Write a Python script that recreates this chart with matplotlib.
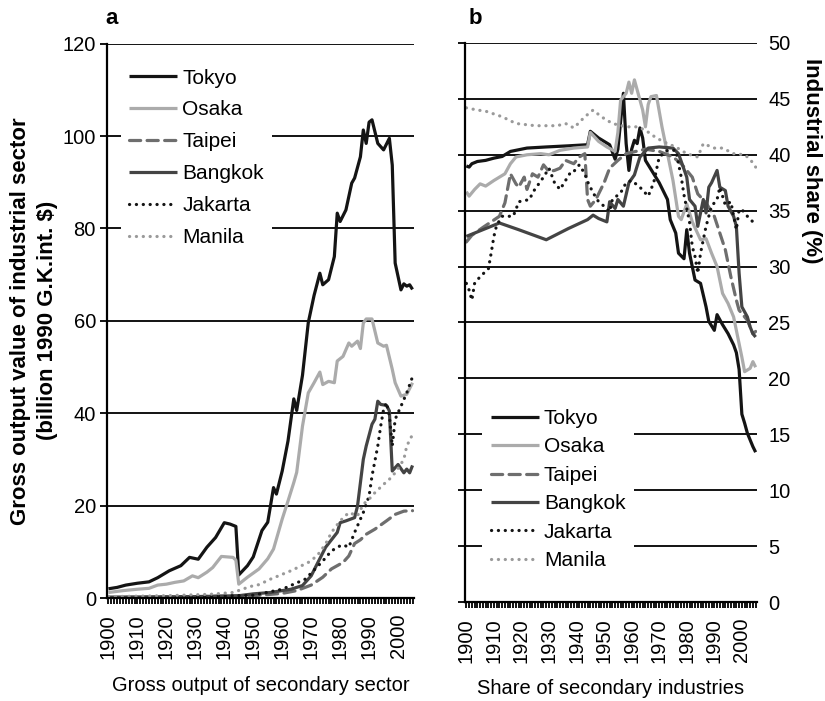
import matplotlib
matplotlib.use("Agg")
import matplotlib.pyplot as plt
from matplotlib.ticker import MultipleLocator

plt.rcParams["font.family"] = ["Liberation Sans", "DejaVu Sans"]

# ---- data: panel a, gross output (billion 1990 G.K.int. $) ----
tokyo_out_yr = [1900, 1903, 1906, 1910, 1914, 1917, 1921, 1925, 1928, 1931, 1934, 1937,
                1940, 1942, 1944, 1945, 1948, 1950, 1953, 1955, 1957, 1958, 1960, 1962,
                1964, 1965, 1967, 1969, 1971, 1973, 1974, 1976, 1978, 1979, 1980, 1982,
                1984, 1985, 1987, 1988, 1989, 1990, 1991, 1993, 1995, 1997, 1998, 1999,
                2001, 2002, 2003, 2004, 2005]
tokyo_out = [2.0, 2.3, 2.8, 3.2, 3.5, 4.4, 5.9, 7.0, 8.8, 8.4, 11.0, 13.1,
             16.3, 16.0, 15.5, 5.0, 7.0, 8.9, 14.6, 16.4, 23.9, 22.5, 27.5, 34.0,
             43.1, 40.6, 48.2, 59.6, 65.5, 70.3, 67.8, 68.9, 73.9, 83.3, 81.5, 84.0,
             89.8, 90.9, 95.5, 101.3, 98.4, 103.0, 103.5, 98.4, 97.0, 99.5, 93.7, 72.5,
             66.7, 68.0, 67.5, 67.8, 66.8]

osaka_out_yr = [1900, 1905, 1910, 1914, 1917, 1920, 1923, 1926, 1929, 1931, 1934, 1936,
                1939, 1941, 1943, 1944, 1945, 1948, 1952, 1955, 1957, 1960, 1962, 1964,
                1965, 1967, 1969, 1971, 1973, 1974, 1976, 1978, 1979, 1981, 1983, 1984,
                1986, 1987, 1988, 1989, 1991, 1993, 1995, 1996, 1998, 1999, 2001, 2003,
                2005]
osaka_out = [1.2, 1.6, 1.9, 2.1, 2.8, 3.0, 3.4, 3.7, 4.8, 4.4, 5.6, 6.6,
             9.0, 8.9, 8.8, 8.2, 3.0, 4.5, 6.3, 8.5, 10.6, 17.1, 21.0, 25.0,
             27.2, 37.2, 44.4, 46.6, 48.9, 46.2, 46.9, 46.6, 51.3, 52.3, 55.2, 54.5,
             55.6, 54.0, 59.5, 60.4, 60.4, 55.2, 54.5, 54.7, 49.5, 46.6, 43.7, 44.1,
             46.6]

taipei_out_yr = [1900, 1920, 1940, 1950, 1960, 1965, 1970, 1974, 1977, 1981, 1983, 1985,
                 1987, 1989, 1992, 1996, 1999, 2002, 2005]
taipei_out = [0.1, 0.2, 0.4, 0.5, 1.0, 1.6, 2.8, 4.5, 6.3, 7.7, 9.1, 11.8,
              12.6, 13.8, 14.9, 16.7, 18.1, 18.8, 18.9]

bangkok_out_yr = [1900, 1930, 1945, 1950, 1956, 1963, 1967, 1970, 1972, 1975, 1979, 1980,
                  1982, 1985, 1986, 1988, 1989, 1991, 1992, 1993, 1994, 1996, 1997, 1998,
                  2000, 2002, 2003, 2004, 2005]
bangkok_out = [0.2, 0.3, 0.5, 0.9, 1.2, 1.9, 2.7, 4.8, 7.3, 11.0, 14.2, 16.3,
               16.7, 17.4, 19.9, 30.0, 32.9, 37.6, 38.7, 42.6, 41.9, 41.7, 40.5, 27.5,
               28.9, 27.1, 27.9, 27.1, 28.7]

jakarta_out_yr = [1900, 1930, 1950, 1960, 1968, 1974, 1977, 1980, 1981, 1983, 1985, 1988,
                  1990, 1991, 1993, 1994, 1995, 1996, 1997, 1998, 1999, 2001, 2003, 2005]
jakarta_out = [0.1, 0.3, 0.6, 1.9, 4.1, 8.0, 10.2, 11.3, 11.5, 11.0, 14.2, 18.5,
               22.1, 26.4, 32.9, 37.2, 40.8, 42.3, 39.4, 32.9, 38.7, 41.5, 44.4, 47.9]

manila_out_yr = [1900, 1920, 1935, 1943, 1949, 1952, 1956, 1963, 1969, 1972, 1975, 1977,
                 1980, 1983, 1986, 1988, 1990, 1992, 1995, 1997, 1999, 2002, 2003, 2005]
manila_out = [0.3, 0.5, 0.8, 1.2, 2.5, 2.9, 4.1, 5.9, 7.7, 9.1, 11.7, 14.2,
              16.7, 18.5, 17.8, 20.3, 21.4, 22.8, 24.6, 25.7, 27.1, 30.0, 32.9, 35.4]

# ---- data: panel b, industrial share (%) ----
tokyo_sh_yr = [1900, 1901, 1902, 1904, 1907, 1910, 1913, 1916, 1922, 1929, 1937, 1944,
               1945, 1948, 1952, 1954, 1955, 1956, 1957, 1958, 1959, 1960, 1961, 1962,
               1963, 1964, 1965, 1968, 1970, 1973, 1974, 1976, 1977, 1979, 1980, 1981,
               1983, 1985, 1987, 1988, 1990, 1991, 1993, 1995, 1997, 1998, 1999, 2000,
               2001, 2002, 2004, 2005]
tokyo_sh = [39.0, 38.9, 39.2, 39.4, 39.5, 39.7, 39.85, 40.3, 40.6, 40.7, 40.8, 40.9,
            42.1, 41.5, 40.9, 39.6, 40.5, 43.0, 45.5, 41.0, 38.6, 40.5, 41.3, 41.0,
            42.4, 41.5, 39.5, 38.3, 37.5, 36.0, 34.2, 33.0, 31.2, 30.7, 33.3, 31.2,
            28.8, 28.5, 26.4, 25.1, 24.3, 25.7, 24.8, 24.0, 23.0, 22.3, 20.8, 16.8,
            16.0, 15.1, 13.9, 13.4]

osaka_sh_yr = [1900, 1901, 1903, 1905, 1907, 1910, 1912, 1914, 1916, 1918, 1922, 1927,
               1930, 1934, 1939, 1944, 1945, 1948, 1951, 1954, 1955, 1956, 1958, 1959,
               1960, 1961, 1962, 1964, 1965, 1966, 1967, 1969, 1971, 1973, 1975, 1977,
               1978, 1980, 1982, 1985, 1987, 1989, 1991, 1993, 1995, 1997, 1998, 2000,
               2001, 2003, 2004, 2005]
osaka_sh = [36.7, 36.3, 36.9, 37.4, 37.2, 37.7, 38.0, 38.3, 39.2, 39.8, 40.0, 40.1,
            40.0, 40.4, 40.6, 40.7, 42.0, 41.2, 40.7, 40.3, 42.0, 44.9, 45.5, 46.5,
            45.5, 46.7, 45.8, 44.0, 42.5, 44.5, 45.2, 45.3, 42.5, 40.1, 37.7, 34.5,
            34.2, 35.6, 34.0, 32.4, 32.5, 31.2, 30.0, 27.6, 26.7, 25.5, 24.3, 21.9,
            20.6, 20.9, 21.5, 21.0]

taipei_sh_yr = [1900, 1902, 1906, 1909, 1912, 1914, 1916, 1918, 1919, 1921, 1922, 1924,
                1926, 1928, 1930, 1932, 1934, 1936, 1939, 1941, 1943, 1944, 1945, 1947,
                1950, 1952, 1955, 1958, 1965, 1970, 1975, 1978, 1982, 1984, 1987, 1990,
                1992, 1994, 1996, 1998, 1999, 2002, 2004, 2005]
taipei_sh = [32.2, 32.8, 33.5, 34.0, 34.5, 35.7, 38.3, 37.4, 37.1, 38.0, 36.9, 38.3,
             38.0, 39.1, 38.5, 38.6, 38.8, 39.5, 39.2, 39.8, 40.1, 36.0, 35.4, 36.0,
             37.5, 38.8, 39.5, 40.1, 40.5, 40.3, 39.8, 39.2, 38.0, 36.5, 35.7, 34.5,
             33.0, 31.5, 29.1, 27.0, 26.1, 25.2, 24.0, 24.2]

bangkok_sh_yr = [1900, 1903, 1907, 1912, 1919, 1929, 1937, 1944, 1946, 1948, 1951, 1952,
                 1954, 1955, 1957, 1959, 1961, 1963, 1966, 1970, 1975, 1977, 1980, 1981,
                 1983, 1984, 1986, 1987, 1988, 1989, 1991, 1992, 1994, 1995, 1997, 1998,
                 1999, 2000, 2002, 2003, 2004, 2005]
bangkok_sh = [32.7, 33.0, 33.4, 33.9, 33.3, 32.4, 33.4, 34.2, 34.6, 34.3, 34.0, 35.8,
              35.2, 36.0, 35.4, 37.5, 38.2, 39.8, 40.6, 40.7, 40.6, 40.1, 38.0, 36.0,
              35.4, 33.6, 36.0, 34.8, 37.1, 37.5, 38.6, 37.1, 36.8, 35.4, 34.5, 33.6,
              29.4, 26.4, 25.5, 24.6, 24.0, 23.7]

jakarta_sh_yr = [1900, 1901, 1902, 1903, 1905, 1908, 1909, 1910, 1911, 1913, 1917, 1918,
                 1919, 1923, 1924, 1926, 1928, 1930, 1932, 1934, 1936, 1938, 1939, 1941,
                 1943, 1944, 1946, 1948, 1950, 1952, 1953, 1956, 1958, 1960, 1963, 1966,
                 1968, 1970, 1973, 1976, 1978, 1979, 1981, 1982, 1983, 1984, 1985, 1987,
                 1989, 1991, 1992, 1994, 1996, 1998, 1999, 2000, 2002, 2004, 2005]
jakarta_sh = [28.5, 27.9, 27.0, 28.5, 29.1, 29.8, 31.2, 32.7, 33.7, 34.5, 34.5, 35.1,
              35.8, 36.0, 36.6, 37.3, 38.0, 38.8, 37.5, 36.9, 37.7, 38.5, 38.5, 39.1,
              38.3, 37.6, 36.6, 35.8, 35.4, 34.9, 36.0, 36.6, 37.5, 37.7, 37.1, 36.3,
              37.5, 39.8, 40.4, 40.4, 38.0, 36.4, 34.0, 31.8, 30.9, 29.4, 31.2, 33.6,
              35.4, 36.0, 37.1, 35.5, 35.8, 33.3, 35.1, 35.1, 34.5, 34.0, 34.2]

manila_sh_yr = [1900, 1904, 1907, 1913, 1918, 1925, 1933, 1936, 1939, 1943, 1946, 1949,
                1953, 1958, 1962, 1965, 1969, 1973, 1976, 1980, 1984, 1986, 1990, 1993,
                1997, 2001, 2003, 2005]
manila_sh = [44.2, 44.0, 43.9, 43.4, 42.8, 42.6, 42.6, 42.8, 42.4, 43.4, 44.0, 43.4,
             42.8, 42.5, 42.5, 42.2, 41.5, 41.0, 40.7, 40.1, 39.8, 41.0, 40.6, 40.6,
             40.1, 40.0, 39.6, 38.9]

cities = ["Tokyo", "Osaka", "Taipei", "Bangkok", "Jakarta", "Manila"]
output_series = [(tokyo_out_yr, tokyo_out), (osaka_out_yr, osaka_out),
                 (taipei_out_yr, taipei_out), (bangkok_out_yr, bangkok_out),
                 (jakarta_out_yr, jakarta_out), (manila_out_yr, manila_out)]
share_series = [(tokyo_sh_yr, tokyo_sh), (osaka_sh_yr, osaka_sh),
                (taipei_sh_yr, taipei_sh), (bangkok_sh_yr, bangkok_sh),
                (jakarta_sh_yr, jakarta_sh), (manila_sh_yr, manila_sh)]

styles = {
    "Tokyo": dict(color="#141414", ls="-"),
    "Osaka": dict(color="#ababab", ls="-"),
    "Taipei": dict(color="#6e6e6e", ls=(0, (3.5, 2))),
    "Bangkok": dict(color="#444444", ls="-"),
    "Jakarta": dict(color="#141414", ls=(0, (0.05, 2.1))),
    "Manila": dict(color="#9a9a9a", ls=(0, (0.05, 2.1))),
}
LW = 2.3
FS = 14.5
LEG_FS = 15

fig = plt.figure(figsize=(8.25, 7.01), dpi=100)
ax1 = fig.add_axes([0.1297, 0.1469, 0.3721, 0.7909])
ax2 = fig.add_axes([0.5636, 0.1412, 0.3540, 0.7975])


def style_axis(ax):
    ax.set_xlim(1899.5, 2005.5)
    ax.xaxis.set_major_locator(MultipleLocator(10))
    ax.xaxis.set_minor_locator(MultipleLocator(1))
    ax.tick_params(axis="x", which="both", direction="out", length=4.5, width=1.3,
                   color="black", labelsize=FS, labelrotation=90, pad=7)
    for s in ["top", "right"]:
        ax.spines[s].set_visible(False)
    for s in ["left", "bottom"]:
        ax.spines[s].set_linewidth(1.6)
    ax.grid(axis="y", color="black", lw=1.3)
    ax.set_axisbelow(True)


def draw(ax, series):
    for name, (yrs, vals) in zip(cities, series):
        st = styles[name]
        ax.plot(yrs, vals, color=st["color"], ls=st["ls"], lw=LW,
                dash_capstyle="round", solid_capstyle="butt", label=name)


# panel a
draw(ax1, output_series)
style_axis(ax1)
ax1.set_ylim(0, 120)
ax1.yaxis.set_major_locator(MultipleLocator(20))
ax1.tick_params(axis="y", direction="out", length=5, width=1.3, labelsize=FS, pad=3)
ax1.set_ylabel("Gross output value of industrial sector\n(billion 1990 G.K.int. $)",
               fontsize=16, fontweight="bold", linespacing=1.35)
ax1.yaxis.set_label_coords(-0.16, 0.5)
ax1.set_xlabel("Gross output of secondary sector", fontsize=FS)
ax1.xaxis.set_label_coords(0.5, -0.14)
leg1 = ax1.legend(loc="upper left", bbox_to_anchor=(0.045, 0.97), fontsize=LEG_FS,
                  handlelength=2.3, handletextpad=0.25, labelspacing=0.62,
                  borderaxespad=0, frameon=True, fancybox=False)
leg1.get_frame().set_edgecolor("none")
leg1.get_frame().set_alpha(1)

# panel b
draw(ax2, share_series)
style_axis(ax2)
ax2.set_ylim(0, 50)
ax2.yaxis.set_major_locator(MultipleLocator(5))
ax2.tick_params(axis="y", direction="out", length=5, width=1.3, labelsize=FS,
                left=True, right=False, labelleft=False, labelright=True, pad=3)
ax2.yaxis.set_label_position("right")
ax2.set_ylabel("Industrial share (%)", fontsize=16, fontweight="bold",
               rotation=270, va="bottom")
ax2.yaxis.set_label_coords(1.152, 0.79)
ax2.set_xlabel("Share of secondary industries", fontsize=FS)
ax2.xaxis.set_label_coords(0.5, -0.137)
leg2 = ax2.legend(loc="upper left", bbox_to_anchor=(0.06, 0.36), fontsize=LEG_FS,
                  handlelength=2.3, handletextpad=0.25, labelspacing=0.45,
                  borderaxespad=0, frameon=True, fancybox=False)
leg2.get_frame().set_edgecolor("none")
leg2.get_frame().set_alpha(1)

fig.text(0.1357, 0.988, "a", fontsize=16, fontweight="bold", va="top", ha="center")
fig.text(0.5758, 0.988, "b", fontsize=16, fontweight="bold", va="top", ha="center")

fig.savefig("out.png", dpi=100)
